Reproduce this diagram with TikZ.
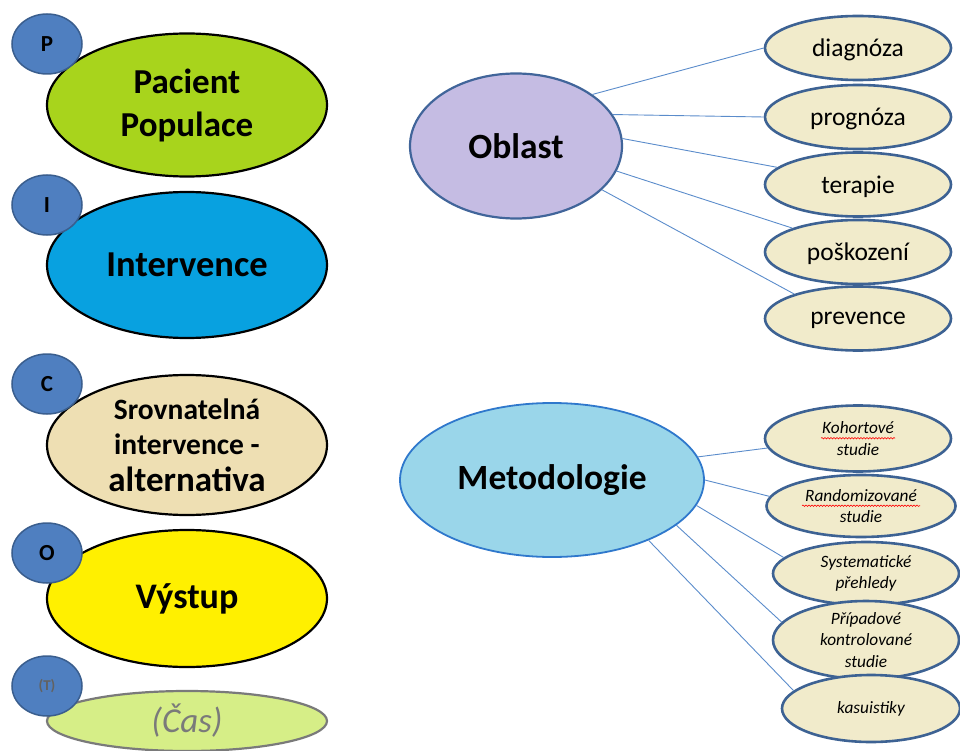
\documentclass[tikz,border=0pt]{standalone}
\usepackage{fontspec}
\setmainfont{Carlito}
\usetikzlibrary{shapes.geometric,decorations.pathmorphing}
\definecolor{circF}{HTML}{4F7FC0}
\definecolor{circB}{HTML}{3A5E8E}
\definecolor{pacF}{HTML}{A8D41C}
\definecolor{intF}{HTML}{08A1E0}
\definecolor{srvF}{HTML}{EEDFB3}
\definecolor{vysF}{HTML}{FFF000}
\definecolor{casF}{HTML}{D6EE87}
\definecolor{casB}{HTML}{7A7A7A}
\definecolor{oblF}{HTML}{C5BCE3}
\definecolor{oblB}{HTML}{41659A}
\definecolor{metF}{HTML}{9AD6EA}
\definecolor{metB}{HTML}{2F78CC}
\definecolor{leafF}{HTML}{F1EBCB}
\definecolor{leafB}{HTML}{3D6293}
\definecolor{linkC}{HTML}{5B8CCB}
\begin{document}
\begin{tikzpicture}[x=1pt,y=-1pt,
  big/.style={ellipse, draw=black, line width=2.2pt, minimum width=280pt, inner sep=0pt, align=center, font=\bfseries\fontsize{35}{43}\selectfont},
  letter/.style={ellipse, draw=circB, fill=circF, line width=1.5pt, minimum width=70pt, minimum height=60pt, inner sep=0pt, font=\bfseries\fontsize{23}{23}\selectfont},
  hub/.style={ellipse, line width=2.2pt, inner sep=0pt, font=\bfseries\fontsize{35.5}{40}\selectfont},
  leaf/.style={ellipse, draw=leafB, fill=leafF, line width=2.6pt, minimum width=186pt, minimum height=64pt, inner sep=0pt, align=center, font=\fontsize{25.5}{25.5}\selectfont},
  oleaf/.style={leaf, text depth=0pt},
  mleaf/.style={leaf, font=\itshape\fontsize{17.3}{21.5}\selectfont},
  link/.style={draw=linkC, line width=0.9pt},
  spell/.style={draw=red, line width=0.6pt, decorate, decoration={snake, segment length=3pt, amplitude=0.7pt}}]
\useasboundingbox (0,0) rectangle (960,751);

% left column
\node[big, fill=pacF, minimum height=143pt] (pac) at (187,105) {Pacient\\Populace};
\node[big, fill=intF, minimum height=146pt, font=\bfseries\fontsize{36.5}{43}\selectfont] (int) at (187,265) {Intervence};
\node[big, fill=srvF, minimum height=140pt, font=\bfseries\fontsize{29.5}{35}\selectfont] (srv) at (187,445) {Srovnatelná\\intervence -\\[2pt]{\fontsize{35}{38}\selectfont alternativa}};
\node[big, fill=vysF, minimum height=137pt, font=\bfseries\fontsize{36}{43}\selectfont] (vys) at (187,598.5) {Výstup};
\node[big, draw=casB, fill=casF, minimum height=60pt, font=\itshape\fontsize{35}{40}\selectfont, text=casB] (cas) at (187,721) {(Čas)};

\node[letter] (lp) at (47,44) {P};
\node[letter] (li) at (47,205) {I};
\node[letter] (lc) at (47,384) {C};
\node[letter] (lo) at (47,553) {O};
\node[letter, font=\bfseries\fontsize{15}{15}\selectfont, text=casB!80!black] (lt) at (47,686) {(T)};

% Oblast
\node[hub, draw=oblB, fill=oblF, minimum width=212pt, minimum height=145pt] (obl) at (516,146) {Oblast};
\node[oleaf] (diag) at (858,48) {diagnóza};
\node[oleaf] (prog) at (858,117) {prognóza};
\node[oleaf] (ter) at (858,184.5) {terapie};
\node[oleaf] (posk) at (858,252) {poškození};
\node[oleaf] (prev) at (858,318.5) {prevence};

\draw[link] (obl.34.5) -- (diag.180);
\draw[link] (obl.18.8) -- (prog.180);
\draw[link] (obl.4.9) -- (ter.168.7);
\draw[link] (obl.-14.8) -- (posk.160.6);
\draw[link] (obl.-27.9) -- (prev.159.8);

% Metodologie
\node[hub, draw=metB, fill=metF, minimum width=304pt, minimum height=154pt, line width=1.8pt] (met) at (552,480) {Metodologie};
\node[mleaf, minimum height=66pt] (koh) at (858,438.5) {Kohortové\\studie};
\node[mleaf, minimum width=189pt, minimum height=62pt] (ran) at (861,506) {Randomizované\\studie};
\node[mleaf, minimum height=63pt] (sys) at (866,573.5) {Systematické\\přehledy};
\node[mleaf, minimum height=64pt] (pri) at (866,640) {Případové\\kontrolované\\studie};
\node[mleaf, minimum width=178pt, minimum height=67pt] (kas) at (871,708.5) {kasuistiky};

\draw[spell] ([xshift=-37pt,yshift=0.3pt]koh.center) -- ([xshift=37pt,yshift=0.3pt]koh.center);
\draw[spell] ([xshift=-59pt,yshift=0.3pt]ran.center) -- ([xshift=59pt,yshift=0.3pt]ran.center);

\draw[link] (met.9.6) -- (koh.-174.5);
\draw[link] (met.0) -- (ran.174.6);
\draw[link] (met.-10.5) -- (sys.169.2);
\draw[link] (met.-20.6) -- (pri.168.6);
\draw[link] (met.-32) -- (kas.167.5);
\end{tikzpicture}
\end{document}
